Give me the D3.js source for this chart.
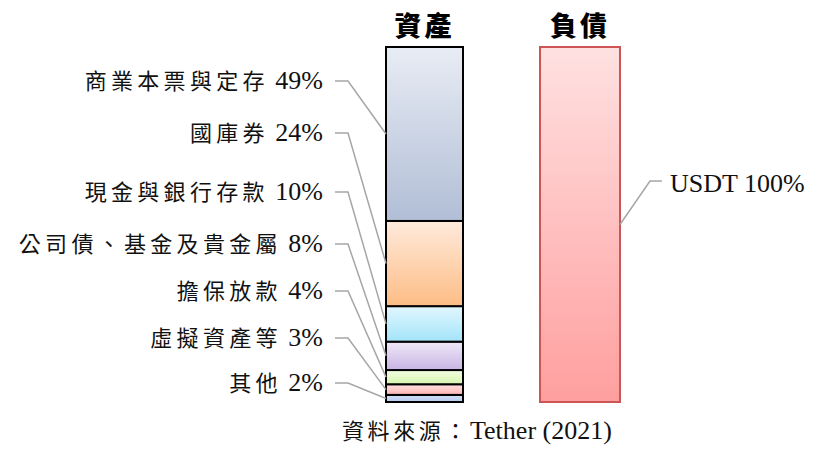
<!DOCTYPE html>
<html><head><meta charset="utf-8">
<script src="https://cdn.jsdelivr.net/npm/d3@7"></script>
<style>
html,body{margin:0;padding:0;background:#fff;}
svg{display:block;}
</style></head>
<body>
<svg id="chart" width="818" height="449"></svg>
<script>
// ---- data ----
const bars = ["資產", "負債"];
const assetCategories = ["其他", "虛擬資產等", "擔保放款", "公司債、基金及貴金屬", "現金與銀行存款", "國庫券", "商業本票與定存"];
const assetValues = [2, 3, 4, 8, 10, 24, 49];
const liabilityCategories = ["USDT"];
const liabilityValues = [100];
const sourceLabel = "資料來源：";
const sourceName = "Tether (2021)";

// ---- styles / layout ----
const assetColors = [
  ["#d3e0f7", "#b7cbef"],
  ["#ffe3e3", "#ffb3b3"],
  ["#f3fde3", "#d6f6ae"],
  ["#efe8f8", "#c9b5e4"],
  ["#e2f7fe", "#a3e4fa"],
  ["#feeadc", "#fdbd85"],
  ["#e8ecf4", "#b1bed6"]
];
const labelY = [383, 338, 291, 244, 192, 133, 81]; // label positions (layout)

const svg = d3.select("#chart");
const defs = svg.append("defs");

const y = d3.scaleLinear().domain([0, 100]).range([402, 47]);
const x = d3.scaleOrdinal().domain(bars).range([386, 540]);
const barW = {"資產": 77, "負債": 80};

assetColors.forEach((c, i) => {
  const g = defs.append("linearGradient").attr("id", "ga" + i)
    .attr("x1", 0).attr("y1", 0).attr("x2", 0).attr("y2", 1);
  g.append("stop").attr("offset", "0%").attr("stop-color", c[0]);
  g.append("stop").attr("offset", "100%").attr("stop-color", c[1]);
});
const gl = defs.append("linearGradient").attr("id", "gl")
  .attr("x1", 0).attr("y1", 0).attr("x2", 0).attr("y2", 1);
gl.append("stop").attr("offset", "0%").attr("stop-color", "#ffe1e1");
gl.append("stop").attr("offset", "100%").attr("stop-color", "#ff9f9f");

const assetStack = [];
let acc = 0;
assetValues.forEach((v, i) => { assetStack.push({cat: assetCategories[i], v, y0: acc, y1: acc + v, i}); acc += v; });

const ax = x("資產");
svg.append("g").selectAll("rect").data(assetStack).join("rect")
  .attr("x", ax).attr("width", barW["資產"])
  .attr("y", d => y(d.y1)).attr("height", d => y(d.y0) - y(d.y1))
  .attr("fill", d => `url(#ga${d.i})`)
  .attr("stroke", "#000").attr("stroke-width", 2);

const lx = x("負債");
let lacc = 0;
const liabStack = liabilityValues.map((v, i) => { const o = {cat: liabilityCategories[i], v, y0: lacc, y1: lacc + v}; lacc += v; return o; });
svg.append("g").selectAll("rect").data(liabStack).join("rect")
  .attr("x", lx).attr("width", barW["負債"])
  .attr("y", d => y(d.y1)).attr("height", d => y(d.y0) - y(d.y1))
  .attr("fill", "url(#gl)")
  .attr("stroke", "#cc5555").attr("stroke-width", 2);

svg.append("g").selectAll("text").data(bars).join("text")
  .attr("x", d => x(d) + barW[d] / 2).attr("y", 36)
  .attr("text-anchor", "middle")
  .attr("font-family", "'Noto Sans CJK TC', sans-serif")
  .attr("font-weight", 900).attr("font-size", 27)
  .attr("letter-spacing", 3)
  .attr("fill", "#000")
  .text(d => d);

const cjkFam = "'Noto Sans CJK TC', sans-serif";
const latFam = "'Liberation Serif', 'Times New Roman', serif";
const lab = svg.append("g");
assetStack.forEach((d, i) => {
  const ly = labelY[i];
  const my = (y(d.y0) + y(d.y1)) / 2;
  lab.append("path")
    .attr("d", `M335,${ly} L348,${ly} L${ax},${my}`)
    .attr("fill", "none").attr("stroke", "#a6a6a6").attr("stroke-width", 1.5);
  const t = lab.append("text")
    .attr("x", 323).attr("y", ly + 8)
    .attr("text-anchor", "end")
    .attr("fill", "#111");
  t.append("tspan")
    .attr("font-family", cjkFam).attr("font-size", 22)
    .attr("letter-spacing", 4.3)
    .text(d.cat);
  t.append("tspan")
    .attr("font-family", latFam).attr("font-size", 26)
    .attr("xml:space", "preserve")
    .style("white-space", "pre")
    .text(`\u00a0${d.v}%`);
});

liabStack.forEach(d => {
  const my = (y(d.y0) + y(d.y1)) / 2;
  const rx = lx + barW["負債"];
  lab.append("path")
    .attr("d", `M${rx},${my} L650,181 L662,181`)
    .attr("fill", "none").attr("stroke", "#a6a6a6").attr("stroke-width", 1.5);
  lab.append("text")
    .attr("x", 670).attr("y", 192)
    .attr("font-family", latFam)
    .attr("font-size", 26)
    .attr("fill", "#111")
    .text(`${d.cat} ${d.v}%`);
});

const src = svg.append("text")
  .attr("x", 342).attr("y", 439)
  .attr("fill", "#111");
src.append("tspan").attr("font-family", cjkFam).attr("font-size", 22).attr("letter-spacing", 3.6).text(sourceLabel);
src.append("tspan").attr("font-family", latFam).attr("font-size", 26).text(sourceName);
</script>
</body></html>
